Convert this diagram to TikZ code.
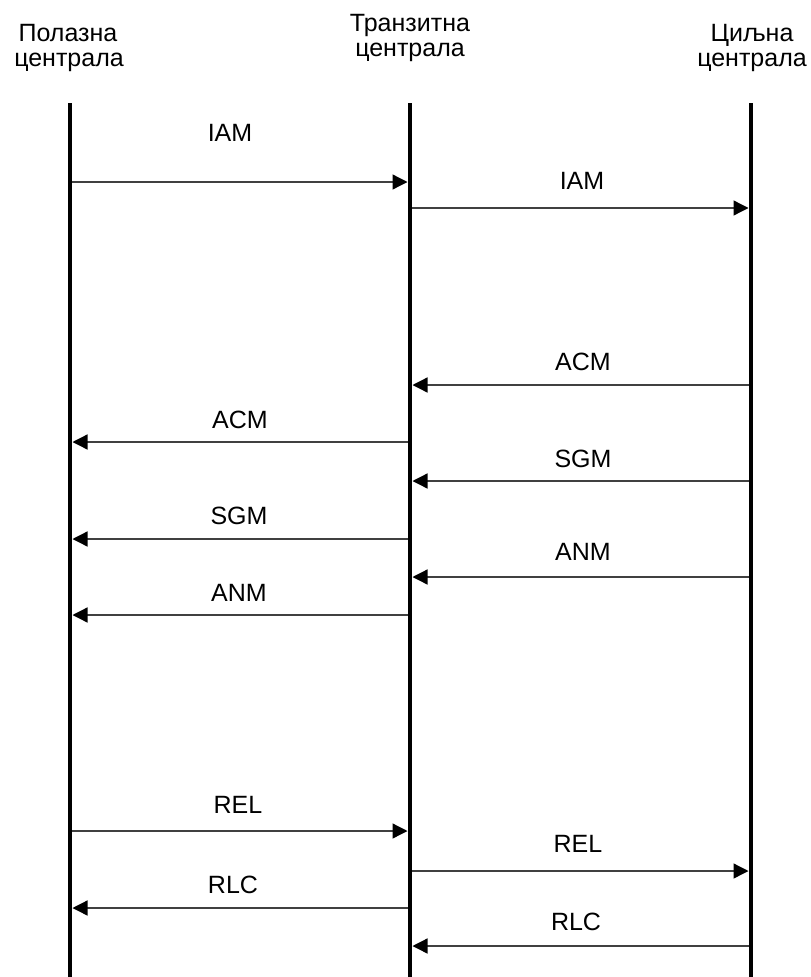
\documentclass[tikz,border=0pt]{standalone}
\usepackage{fontspec}
\setmainfont{Liberation Sans}
\usetikzlibrary{arrows.meta}
\begin{document}
\begin{tikzpicture}[x=1pt,y=-1pt,
  lifeline/.style={line width=4.5pt},
  msg/.style={line width=1.3pt, draw=black!75, -{Triangle[length=15pt,width=15pt,color=black]}},
  lbl/.style={font=\fontsize{25}{27}\selectfont, inner sep=0pt, anchor=base},
  head/.style={font=\fontsize{25}{27}\selectfont, inner sep=0pt, anchor=base}]
\useasboundingbox (0,0) rectangle (811,977);
% headers
\node[head] (h1a) at (68,41) {Полазна};
\node[head] (h1b) at (69,66) {централа};
\node[head] (h2a) at (410,31) {Транзитна};
\node[head] (h2b) at (410,56) {централа};
\node[head] (h3a) at (752,41) {Циљна};
\node[head] (h3b) at (752,66) {централа};
% messages
\foreach \i/\fx/\tx/\y/\t/\lx/\ly in {
  1/70/410/182/IAM/230/141,
  2/410/751/208/IAM/582/189,
  3/751/410/385/ACM/583/370,
  4/410/70/442/ACM/240/428,
  5/751/410/481/SGM/583/467,
  6/410/70/539/SGM/239/524,
  7/751/410/577/ANM/583/560,
  8/410/70/615/ANM/239/601,
  9/70/410/831/REL/238/813,
  10/410/751/871/REL/578/852,
  11/410/70/908/RLC/233/893,
  12/751/410/946/RLC/576/930} {
  \pgfmathsetmacro\ex{\tx - 2.5*sign(\tx-\fx)}
  \coordinate (s\i) at (\fx,\y);
  \coordinate (e\i) at (\ex,\y);
  \draw[msg] (s\i) -- (e\i);
  \node[lbl] (l\i) at (\lx,\ly) {\t};
}
% lifelines
\coordinate (Atop) at (70,103); \coordinate (Abot) at (70,977);
\coordinate (Btop) at (410,103); \coordinate (Bbot) at (410,977);
\coordinate (Ctop) at (751,103); \coordinate (Cbot) at (751,977);
\draw[lifeline] (Atop) -- (Abot);
\draw[lifeline] (Btop) -- (Bbot);
\draw[lifeline] (Ctop) -- (Cbot);
\end{tikzpicture}
\end{document}
